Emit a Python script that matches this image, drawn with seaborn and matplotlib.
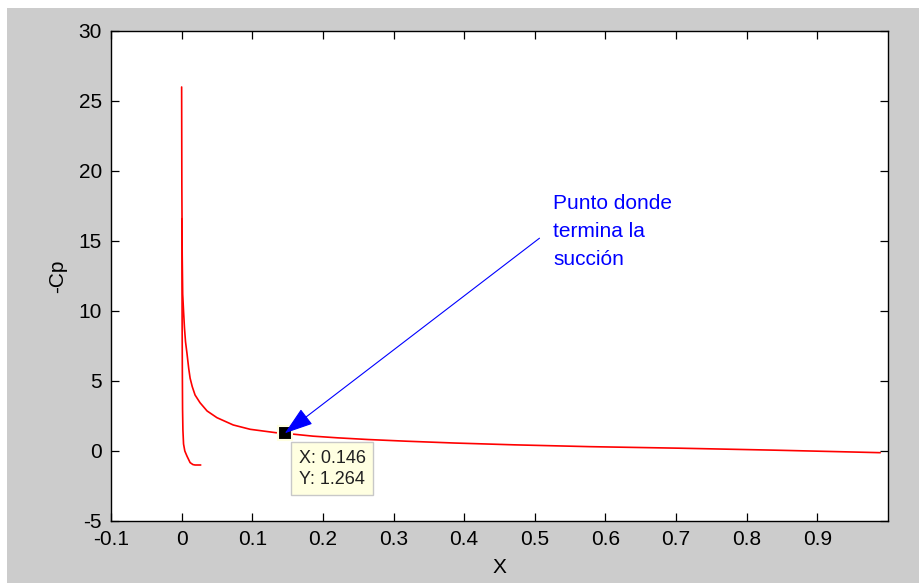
import matplotlib
matplotlib.use("Agg")
import numpy as np
import pandas as pd
import seaborn as sns
import matplotlib.pyplot as plt
from matplotlib.patches import Rectangle

# ---- data ----
x_upper = [0.0, 0.0003, 0.0008, 0.0015, 0.0027, 0.004, 0.0055, 0.0075, 0.010, 0.012,
           0.015, 0.019, 0.026, 0.036, 0.050, 0.073, 0.097, 0.133, 0.146, 0.186,
           0.221, 0.264, 0.318, 0.386, 0.471, 0.578, 0.705, 0.839, 0.940, 0.989]
cp_upper = [26.0, 19.0, 14.0, 11.2, 10.0, 8.8, 7.8, 7.0, 5.9, 5.2,
            4.6, 4.0, 3.45, 2.86, 2.38, 1.86, 1.55, 1.31, 1.264, 1.06,
            0.94, 0.82, 0.70, 0.57, 0.44, 0.31, 0.20, 0.06, -0.06, -0.12]

x_lower = [0.0003, 0.0005, 0.0007, 0.0010, 0.0013, 0.0018, 0.0027, 0.0045, 0.0075,
           0.012, 0.016, 0.019, 0.027]
cp_lower = [16.6, 13.0, 9.0, 5.7, 3.0, 1.5, 0.5, 0.0, -0.36,
            -0.83, -0.97, -1.0, -1.0]

tip_x = 0.146
tip_y = 1.264

x_ticks = [-0.1, 0.0, 0.1, 0.2, 0.3, 0.4, 0.5, 0.6, 0.7, 0.8, 0.9]
x_tick_labels = ["-0.1", "0", "0.1", "0.2", "0.3", "0.4", "0.5", "0.6", "0.7", "0.8", "0.9"]
y_ticks = [-5, 0, 5, 10, 15, 20, 25, 30]
y_tick_labels = ["-5", "0", "5", "10", "15", "20", "25", "30"]

note_text = "Punto donde\ntermina la\nsucción"
x_label = "X"
y_label = "-Cp"

# ---- style ----
sns.set_theme(style="white")
plt.rcParams["font.family"] = ["Liberation Sans", "DejaVu Sans"]

W, H = 919, 583
fig = plt.figure(figsize=(W / 100, H / 100), dpi=100, facecolor="#cccccc")
# white strips along the top and left edge of the screenshot
fig.patches.append(Rectangle((0, 1 - 8 / H), 1, 8 / H, transform=fig.transFigure,
                             facecolor="white", edgecolor="none", zorder=0))
fig.patches.append(Rectangle((0, 0), 7 / W, 1, transform=fig.transFigure,
                             facecolor="white", edgecolor="none", zorder=0))

left, right, top, bottom = 111, 888, 31, 521
ax = fig.add_axes([left / W, 1 - bottom / H, (right - left) / W, (bottom - top) / H])
ax.set_facecolor("white")

df_u = pd.DataFrame({"x": x_upper, "cp": cp_upper})
df_l = pd.DataFrame({"x": x_lower, "cp": cp_lower})
sns.lineplot(data=df_u, x="x", y="cp", ax=ax, color="red", lw=1.2,
             sort=False, estimator=None)
sns.lineplot(data=df_l, x="x", y="cp", ax=ax, color="red", lw=1.2,
             sort=False, estimator=None)

ax.set_xlim(-0.1, 1.0)
ax.set_ylim(-5, 30)
ax.set_xticks(x_ticks, x_tick_labels)
ax.set_yticks(y_ticks, y_tick_labels)

for s in ax.spines.values():
    s.set_color("black")
    s.set_linewidth(1.0)
    s.set_visible(True)

ax.tick_params(direction="in", length=6, width=0.9, colors="black",
               bottom=True, top=True, left=True, right=True,
               labelsize=15, pad=6.5)

ax.set_xlabel(x_label, fontsize=15, color="black")
ax.set_ylabel(y_label, fontsize=15, color="black")
ax.xaxis.set_label_coords(0.5, -0.0755)
ax.yaxis.set_label_coords(-0.057, 0.5)

# data tip marker
ax.plot([tip_x], [tip_y], marker="s", markersize=10, markerfacecolor="black",
        markeredgecolor="#ffffe1", markeredgewidth=1.5, linestyle="none", zorder=5)
ax.annotate(f"X: {tip_x:.3f}\nY: {tip_y:.3f}", xy=(tip_x, tip_y),
            xytext=(10, -12), textcoords="offset points", ha="left", va="top",
            fontsize=13, color="#202020", linespacing=1.3,
            bbox=dict(boxstyle="square,pad=0.42", facecolor="#ffffe1",
                      edgecolor="#c8c8c8", linewidth=1.0), zorder=6)

# blue arrow + note
ax.annotate("", xy=(tip_x, tip_y), xytext=(0.5066, 15.2),
            arrowprops=dict(arrowstyle="-|>,head_length=0.9,head_width=0.3",
                            color="blue", lw=0.8, mutation_scale=20,
                            shrinkA=0, shrinkB=0), zorder=7)
ax.text(0.5264, 15.7, note_text, ha="left", va="center", color="blue",
        fontsize=15, linespacing=1.6)

fig.savefig("out.png", dpi=100, facecolor=fig.get_facecolor())
